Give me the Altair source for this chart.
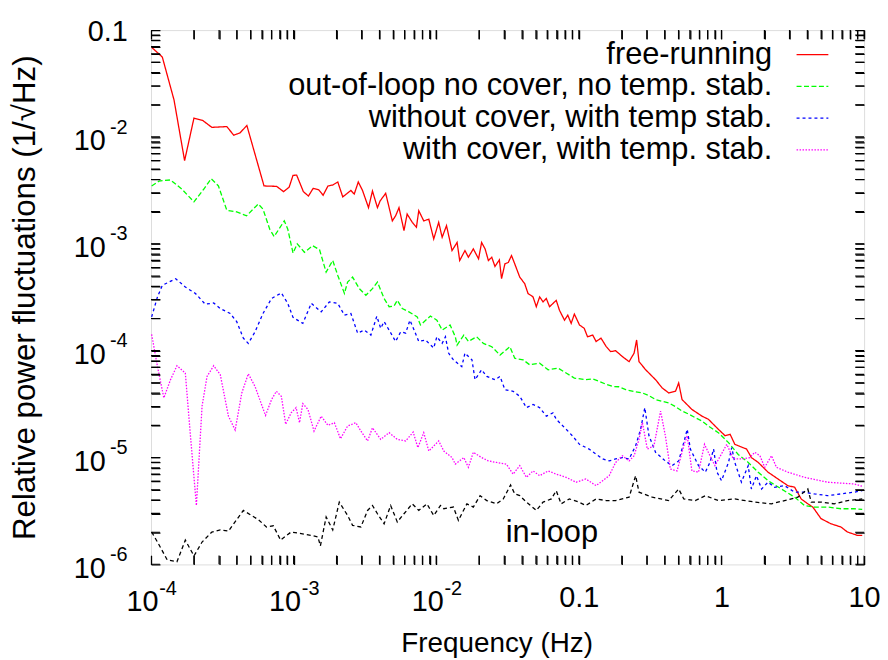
import math
import altair as alt
import pandas as pd

# ---------------- data ----------------
series_names = ["free-running",
                "out-of-loop no cover, no temp. stab.",
                "without cover, with temp stab.",
                "with cover, with temp. stab."]
series_colors = ["#ff0000", "#00ff00", "#0000ff", "#ff00ff"]
series_dashes = [[1, 0], [5, 2.5], [3, 3], [1.5, 1.5]]
inloop_label = "in-loop"
inloop_label_f = [0.0647]
inloop_label_v = [1.62e-6]

free_f = [1.01e-4, 1.2e-4, 1.45e-4, 1.72e-4, 2.0e-4, 2.3e-4, 2.67e-4, 3.4e-4, 3.8e-4, 4.2e-4, 4.7e-4,
          6.2e-4, 7.6e-4, 8.5e-4, 9.3e-4, 9.9e-4,
          1.05e-3, 1.17e-3, 1.27e-3, 1.37e-3, 1.5e-3, 1.61e-3, 1.74e-3, 1.88e-3, 2.04e-3, 2.21e-3,
          2.52e-3, 2.66e-3, 2.84e-3, 3.04e-3, 3.35e-3, 3.57e-3, 3.87e-3, 4.04e-3, 4.42e-3, 4.92e-3,
          5.19e-3, 5.48e-3, 5.94e-3, 6.25e-3, 6.79e-3, 7.26e-3, 7.54e-3, 8.17e-3, 8.87e-3, 9.6e-3,
          1.04e-2, 1.1e-2, 1.18e-2, 1.29e-2, 1.4e-2, 1.46e-2, 1.59e-2, 1.68e-2, 1.82e-2, 1.98e-2,
          2.08e-2, 2.2e-2, 2.32e-2, 2.45e-2, 2.58e-2, 2.77e-2, 2.87e-2, 3.03e-2, 3.2e-2, 3.37e-2,
          3.55e-2, 3.85e-2, 4.17e-2, 4.4e-2, 4.77e-2, 5.03e-2, 5.31e-2, 5.61e-2, 5.91e-2, 6.23e-2,
          6.94e-2, 7.31e-2, 7.93e-2, 8.36e-2, 8.83e-2, 9.3e-2, 0.101, 0.109, 0.115, 0.125,
          0.132, 0.143, 0.155, 0.167, 0.181, 0.202, 0.225, 0.244, 0.254, 0.264,
          0.294, 0.345, 0.384, 0.427, 0.476, 0.501, 0.529, 0.62, 0.73, 0.81,
          0.95, 1.06, 1.15, 1.24, 1.5, 1.62, 1.81, 2.12, 2.49, 2.92,
          3.26, 3.62, 4.03, 4.37, 4.99, 5.86, 6.88, 7.64, 8.98, 9.7]
free_v = [6.9e-2, 5.6e-2, 2.22e-2, 6.0e-3, 1.5e-2, 1.43e-2, 1.23e-2, 1.25e-2, 1.04e-2, 1.09e-2, 1.28e-2,
          3.48e-3, 3.45e-3, 3.08e-3, 3.39e-3, 4.37e-3,
          4.4e-3, 3.08e-3, 2.8e-3, 3.3e-3, 3.2e-3, 2.85e-3, 3.48e-3, 3.55e-3, 3.79e-3, 2.75e-3,
          3.16e-3, 2.92e-3, 3.79e-3, 3.16e-3, 2.18e-3, 3.12e-3, 2.18e-3, 2.52e-3, 2.97e-3, 1.64e-3,
          1.83e-3, 2.18e-3, 1.33e-3, 1.9e-3, 1.59e-3, 1.43e-3, 2.04e-3, 1.64e-3, 1.7e-3, 1.11e-3,
          1.59e-3, 1.15e-3, 1.48e-3, 8.65e-4, 1.03e-3, 6.98e-4, 8.65e-4, 7.49e-4, 8.97e-4, 7.24e-4,
          1.03e-3, 8.97e-4, 6.98e-4, 7.49e-4, 6.14e-4, 7.08e-4, 4.72e-4, 6.5e-4, 6.7e-4, 7.77e-4,
          6.5e-4, 4.88e-4, 4.24e-4, 3.43e-4, 3.19e-4, 2.58e-4, 3.19e-4, 2.86e-4, 3.08e-4, 2.58e-4,
          2.96e-4, 2.39e-4, 1.93e-4, 2.15e-4, 1.8e-4, 2.2e-4, 1.74e-4, 1.62e-4, 1.35e-4, 1.4e-4,
          1.22e-4, 1.31e-4, 1.1e-4, 9.8e-5, 1.0e-4, 8.8e-5, 7.9e-5, 9.5e-5, 1.26e-4, 7.9e-5,
          6.63e-5, 5.35e-5, 4.48e-5, 4.02e-5, 4.17e-5, 4.99e-5, 3.49e-5, 2.82e-5, 2.44e-5, 2.28e-5,
          1.84e-5, 1.6e-5, 1.65e-5, 1.33e-5, 1.2e-5, 1.0e-5, 9.0e-6, 7.3e-6, 6.3e-6, 5.46e-6,
          5.27e-6, 4.1e-6, 3.69e-6, 3.44e-6, 2.68e-6, 2.4e-6, 2.24e-6, 2.01e-6, 1.87e-6, 1.87e-6]

ool_f = [1.01e-4, 1.14e-4, 1.37e-4, 1.65e-4, 2.0e-4, 2.34e-4, 2.64e-4, 2.97e-4, 3.4e-4, 3.99e-4,
         4.68e-4, 5.65e-4, 6.1e-4, 6.8e-4, 7.3e-4, 8.6e-4, 9.1e-4, 9.9e-4, 1.06e-3, 1.19e-3,
         1.36e-3, 1.52e-3, 1.69e-3, 1.88e-3, 2.04e-3, 2.27e-3, 2.39e-3, 2.59e-3, 2.89e-3, 3.21e-3,
         3.57e-3, 3.87e-3, 4.31e-3, 4.67e-3, 5.06e-3, 5.33e-3, 5.78e-3, 6.43e-3, 7.36e-3, 7.75e-3,
         9.1e-3, 1.01e-2, 1.1e-2, 1.25e-2, 1.36e-2, 1.4e-2, 1.56e-2, 1.68e-2, 1.92e-2, 2.14e-2,
         2.45e-2, 2.8e-2, 3.28e-2, 3.55e-2, 4.07e-2, 4.52e-2, 5.31e-2, 6.09e-2, 7.13e-2, 8.14e-2,
         9.3e-2, 0.112, 0.125, 0.139, 0.155, 0.172, 0.19, 0.213, 0.245, 0.279,
         0.31, 0.345, 0.385, 0.427, 0.475, 0.529, 0.59, 0.655, 0.73, 0.81,
         0.95, 1.12, 1.31, 1.54, 1.81, 2.12, 2.63, 3.26, 3.82, 4.48,
         5.54, 6.88, 8.5, 9.7]
ool_v = [3.48e-3, 3.87e-3, 3.96e-3, 3.24e-3, 2.47e-3, 3.24e-3, 4.07e-3, 3.48e-3, 2.06e-3, 1.99e-3,
         1.83e-3, 2.36e-3, 2.11e-3, 1.37e-3, 1.17e-3, 1.64e-3, 1.37e-3, 8.2e-4, 1.0e-3, 8.34e-4,
         9.6e-4, 8.8e-4, 5.43e-4, 6.98e-4, 5.06e-4, 3.43e-4, 4.39e-4, 4.88e-4, 3.81e-4, 3.3e-4,
         3.81e-4, 4.39e-4, 3.08e-4, 2.58e-4, 2.62e-4, 2.96e-4, 2.48e-4, 2.31e-4, 2.07e-4, 1.74e-4,
         2.11e-4, 1.93e-4, 1.56e-4, 1.74e-4, 1.35e-4, 1.13e-4, 1.4e-4, 1.22e-4, 1.35e-4, 1.17e-4,
         1.09e-4, 9.1e-5, 1.09e-4, 8.5e-5, 8.2e-5, 7.38e-5, 7.65e-5, 6.63e-5, 6.88e-5, 6.18e-5,
         5.55e-5, 5.35e-5, 5.45e-5, 5.16e-5, 4.85e-5, 4.63e-5, 4.6e-5, 4.32e-5, 4.15e-5, 4.02e-5,
         3.8e-5, 3.49e-5, 3.35e-5, 3.25e-5, 3.0e-5, 2.72e-5, 2.55e-5, 2.36e-5, 2.2e-5, 1.97e-5,
         1.71e-5, 1.38e-5, 1.07e-5, 9.0e-6, 7.3e-6, 6.08e-6, 5.08e-6, 4.26e-6, 3.56e-6, 3.44e-6,
         3.44e-6, 3.32e-6, 3.32e-6, 3.27e-6]

nocov_f = [1.01e-4, 1.11e-4, 1.2e-4, 1.49e-4, 1.74e-4, 2.05e-4, 2.4e-4, 2.75e-4, 3.06e-4, 3.59e-4,
           3.99e-4, 4.44e-4, 4.81e-4, 5.36e-4, 6.1e-4, 7.0e-4, 8.2e-4, 9.1e-4, 9.9e-4, 1.16e-3,
           1.33e-3, 1.56e-3, 1.78e-3, 2.04e-3, 2.27e-3, 2.52e-3, 2.81e-3, 3.13e-3, 3.48e-3, 3.83e-3,
           4.08e-3, 4.31e-3, 4.67e-3, 5.19e-3, 5.63e-3, 6.1e-3, 6.54e-3, 7.0e-3, 7.54e-3, 8.4e-3,
           9.6e-3, 1.01e-2, 1.1e-2, 1.16e-2, 1.22e-2, 1.32e-2, 1.51e-2, 1.59e-2, 1.78e-2, 1.87e-2,
           2.08e-2, 2.26e-2, 2.58e-2, 2.8e-2, 3.03e-2, 3.46e-2, 3.85e-2, 4.29e-2, 4.77e-2, 5.31e-2,
           5.91e-2, 6.58e-2, 6.94e-2, 8.14e-2, 9.0e-2, 0.101, 0.118, 0.147, 0.163, 0.181,
           0.202, 0.225, 0.25, 0.271, 0.29, 0.31, 0.345, 0.404, 0.45, 0.501,
           0.544, 0.575, 0.605, 0.69, 0.77, 0.83, 0.88, 0.93, 1.0, 1.12,
           1.18, 1.24, 1.38, 1.54, 1.62, 1.76, 1.91, 2.12, 2.36, 2.77,
           3.26, 3.82, 4.48, 5.54, 6.88, 8.5, 9.7]
nocov_v = [2.07e-4, 3.19e-4, 4.09e-4, 4.72e-4, 3.94e-4, 3.43e-4, 2.72e-4, 2.8e-4, 2.48e-4, 2.23e-4,
           1.87e-4, 1.31e-4, 1.17e-4, 1.5e-4, 2.23e-4, 3.08e-4, 3.47e-4, 2.77e-4, 2.05e-4, 1.8e-4,
           2.77e-4, 2.31e-4, 2.86e-4, 2.77e-4, 2.15e-4, 2.23e-4, 1.46e-4, 1.56e-4, 1.4e-4, 2.1e-4,
           1.62e-4, 1.87e-4, 1.56e-4, 1.22e-4, 1.5e-4, 1.46e-4, 1.93e-4, 1.56e-4, 1.22e-4, 1.26e-4,
           1.06e-4, 1.35e-4, 1.17e-4, 1.35e-4, 9.5e-5, 8.2e-5, 7.1e-5, 9.5e-5, 8.2e-5, 5.35e-5,
           6.63e-5, 5.74e-5, 5.35e-5, 5.74e-5, 4.32e-5, 4.17e-5, 3.74e-5, 2.93e-5, 3.14e-5, 2.93e-5,
           2.44e-5, 2.62e-5, 2.28e-5, 1.84e-5, 1.6e-5, 1.33e-5, 1.2e-5, 9.7e-6, 9.3e-6, 9.7e-6,
           1.0e-5, 9.7e-6, 1.29e-5, 1.84e-5, 2.93e-5, 1.6e-5, 1.12e-5, 9.3e-6, 8.4e-6, 9.3e-6,
           1.38e-5, 1.84e-5, 1.2e-5, 8.4e-6, 7.3e-6, 9.0e-6, 1.2e-5, 7.3e-6, 6.08e-6, 9.0e-6,
           1.24e-5, 9.0e-6, 5.88e-6, 8.4e-6, 5.08e-6, 6.76e-6, 5.08e-6, 5.88e-6, 5.27e-6, 5.46e-6,
           4.74e-6, 4.74e-6, 4.57e-6, 4.4e-6, 4.57e-6, 4.74e-6, 4.91e-6]

cov_f = [1.01e-4, 1.11e-4, 1.23e-4, 1.37e-4, 1.52e-4, 1.74e-4, 1.89e-4, 2.08e-4, 2.28e-4, 2.47e-4,
         2.75e-4, 3.06e-4, 3.49e-4, 3.89e-4, 4.33e-4, 4.81e-4, 5.36e-4, 6.35e-4, 7.0e-4, 7.57e-4,
         8.2e-4, 8.8e-4, 9.6e-4, 1.04e-3, 1.1e-3, 1.16e-3, 1.26e-3, 1.39e-3, 1.56e-3, 1.74e-3,
         1.93e-3, 2.13e-3, 2.39e-3, 2.73e-3, 2.96e-3, 3.3e-3, 3.57e-3, 4.08e-3, 4.67e-3, 5.33e-3,
         6.1e-3, 6.89e-3, 7.43e-3, 8.17e-3, 8.87e-3, 1.04e-2, 1.13e-2, 1.29e-2, 1.36e-2, 1.56e-2,
         1.68e-2, 1.82e-2, 2.08e-2, 2.32e-2, 2.65e-2, 3.1e-2, 3.46e-2, 3.85e-2, 4.29e-2, 4.77e-2,
         5.31e-2, 6.09e-2, 6.94e-2, 8.14e-2, 9.56e-2, 0.112, 0.132, 0.147, 0.163, 0.181,
         0.202, 0.225, 0.244, 0.264, 0.279, 0.302, 0.336, 0.374, 0.404, 0.438,
         0.488, 0.544, 0.575, 0.62, 0.69, 0.76, 0.83, 0.9, 1.09, 1.21,
         1.38, 1.58, 1.71, 1.86, 2.01, 2.24, 2.43, 2.92, 3.82, 5.54,
         8.5, 9.7]
cov_v = [1.42e-4, 7.1e-5, 3.62e-5, 5.35e-5, 7.23e-5, 6.18e-5, 1.6e-5, 3.56e-6, 3.03e-5, 5.74e-5,
         7.23e-5, 5.96e-5, 2.44e-5, 1.81e-5, 4.02e-5, 6.08e-5, 4.63e-5, 2.48e-5, 3.49e-5, 4.17e-5,
         3.74e-5, 2.05e-5, 2.62e-5, 2.93e-5, 2.12e-5, 3.2e-5, 2.82e-5, 1.77e-5, 2.44e-5, 2.0e-5,
         2.12e-5, 1.5e-5, 1.97e-5, 2.12e-5, 1.77e-5, 1.43e-5, 1.9e-5, 1.48e-5, 1.71e-5, 1.48e-5,
         1.43e-5, 1.73e-5, 1.24e-5, 1.71e-5, 1.15e-5, 1.43e-5, 1.15e-5, 1.0e-5, 8.68e-6, 1.0e-5,
         8.1e-6, 1.12e-5, 1.0e-5, 9.3e-6, 9.0e-6, 8.68e-6, 7.0e-6, 8.4e-6, 6.53e-6, 7.5e-6,
         6.76e-6, 7.5e-6, 7.0e-6, 6.53e-6, 5.88e-6, 6.3e-6, 5.46e-6, 6.08e-6, 6.76e-6, 9.0e-6,
         1.04e-5, 9.3e-6, 1.04e-5, 1.48e-5, 2.12e-5, 1.2e-5, 1.29e-5, 2.72e-5, 1.6e-5, 7.8e-6,
         7.5e-6, 1.29e-5, 1.6e-5, 7.5e-6, 7.3e-6, 1.33e-5, 1.04e-5, 8.4e-6, 1.33e-5, 9.7e-6,
         9.7e-6, 1.0e-5, 1.12e-5, 1.04e-5, 8.1e-6, 1.04e-5, 8.1e-6, 7.3e-6, 6.53e-6, 5.88e-6,
         5.66e-6, 5.39e-6]

inloop_f = [1.01e-4, 1.11e-4, 1.3e-4, 1.52e-4, 1.74e-4, 2.0e-4, 2.28e-4, 2.67e-4, 3.06e-4, 3.49e-4,
            4.44e-4, 5.07e-4, 5.65e-4, 6.45e-4, 7.2e-4, 8.1e-4, 9.6e-4, 1.13e-3, 1.33e-3, 1.48e-3,
            1.54e-3, 1.69e-3, 1.88e-3, 2.09e-3, 2.39e-3, 2.59e-3, 2.96e-3, 3.3e-3, 3.57e-3, 3.87e-3,
            4.31e-3, 4.79e-3, 5.33e-3, 5.94e-3, 6.79e-3, 7.54e-3, 8.6e-3, 9.6e-3, 1.07e-2, 1.13e-2,
            1.32e-2, 1.43e-2, 1.64e-2, 1.82e-2, 2.03e-2, 2.26e-2, 2.65e-2, 2.95e-2, 3.32e-2, 3.55e-2,
            3.85e-2, 4.29e-2, 5.03e-2, 5.61e-2, 6.41e-2, 6.94e-2, 7.51e-2, 8.58e-2, 0.1, 0.112,
            0.132, 0.155, 0.181, 0.225, 0.25, 0.264, 0.327, 0.427, 0.501, 0.544,
            0.655, 0.77, 0.95, 1.24, 1.71, 2.24, 2.77, 3.43, 4.03, 4.26,
            4.99, 6.18, 7.64, 9.7]
inloop_v = [2.01e-6, 1.62e-6, 1.1e-6, 1.06e-6, 1.69e-6, 1.2e-6, 1.62e-6, 2.01e-6, 2.1e-6, 2.05e-6,
            3.2e-6, 2.87e-6, 2.63e-6, 2.24e-6, 2.3e-6, 1.69e-6, 2.01e-6, 1.94e-6, 1.87e-6, 1.81e-6,
            1.49e-6, 2.78e-6, 2.1e-6, 3.83e-6, 2.87e-6, 2.32e-6, 2.24e-6, 3.2e-6, 3.56e-6, 2.98e-6,
            2.4e-6, 3.56e-6, 2.5e-6, 2.98e-6, 3.69e-6, 3.2e-6, 3.69e-6, 2.87e-6, 3.56e-6, 3.32e-6,
            3.44e-6, 2.58e-6, 3.69e-6, 3.44e-6, 4.4e-6, 3.96e-6, 3.69e-6, 4.1e-6, 5.54e-6, 4.57e-6,
            4.4e-6, 3.83e-6, 3.2e-6, 3.83e-6, 4.1e-6, 4.9e-6, 3.69e-6, 4.1e-6, 3.83e-6, 3.56e-6,
            4.1e-6, 3.96e-6, 3.96e-6, 4.26e-6, 6.76e-6, 4.74e-6, 4.26e-6, 3.96e-6, 5.08e-6, 4.1e-6,
            3.96e-6, 4.4e-6, 3.96e-6, 4.1e-6, 3.83e-6, 3.69e-6, 3.96e-6, 4.26e-6, 5.08e-6, 3.83e-6,
            3.83e-6, 3.69e-6, 3.96e-6, 4.1e-6]

# axis ticks and labels
x_domain = [1e-4, 10.0]
y_domain = [1e-6, 0.1]
x_major = [1e-4, 1e-3, 1e-2, 0.1, 1, 10]
x_mantissa_labels = ["10", "10", "10", "0.1", "1", "10"]
x_exponent_labels = ["-4", "-3", "-2", "", "", ""]
y_major = [1e-6, 1e-5, 1e-4, 1e-3, 1e-2, 0.1]
y_mantissa_labels = ["10", "10", "10", "10", "10", "0.1"]
y_exponent_labels = ["-6", "-5", "-4", "-3", "-2", ""]
x_all_ticks = [m * 10.0 ** k for k in range(-4, 1) for m in range(1, 10)] + [10.0]
y_all_ticks = [m * 10.0 ** k for k in range(-6, -1) for m in range(1, 10)] + [0.1]

# ---------------- tables ----------------
rows = []
for name, fs, vs in zip(series_names, [free_f, ool_f, nocov_f, cov_f],
                        [free_v, ool_v, nocov_v, cov_v]):
    assert len(fs) == len(vs), name
    for i, (f, v) in enumerate(zip(fs, vs)):
        rows.append({"series": name, "f": f, "v": v, "idx": i})
df = pd.DataFrame(rows)
assert len(inloop_f) == len(inloop_v)
df_in = pd.DataFrame({"f": inloop_f, "v": inloop_v, "idx": range(len(inloop_f))})
df_txt = pd.DataFrame({"f": inloop_label_f, "v": inloop_label_v, "label": [inloop_label]})
df_xt = pd.DataFrame({"f": x_all_ticks})
df_yt = pd.DataFrame({"v": y_all_ticks})

FONT = "Liberation Sans"
xs = alt.Scale(type="log", domain=x_domain, nice=False)
ys = alt.Scale(type="log", domain=y_domain, nice=False)
W, H = 718, 538
TICK = 9  # inward tick length in pixels


def label_expr(vals, labels):
    expr = "''"
    for v, lab in zip(vals, labels):
        expr = f"abs(log(datum.value)/LN10 - ({math.log10(v):.3f})) < 0.01 ? '{lab}' : " + expr
    return expr


def pick(vals, labels):
    keep = [(v, l) for v, l in zip(vals, labels) if l]
    return [v for v, _ in keep], [l for _, l in keep]


def label_axis(orient, vals, labels, size, **kw):
    v, l = pick(vals, labels)
    return alt.Axis(orient=orient, values=v, labelExpr=label_expr(v, l), labelFontSize=size,
                    labelFont=FONT, labelColor="black", ticks=False, domain=False, grid=False,
                    labelFlush=False, labelOverlap=False, labelBound=False, **kw)


def grid_tick_axis(orient, vals, span):
    # gnuplot-like inward ticks: each grid line is dashed so only its two ends show
    return alt.Axis(orient=orient, values=vals, labels=False, ticks=False, domain=False,
                    grid=True, gridColor="#000000", gridWidth=1.3, gridOpacity=1,
                    gridDash=[TICK, span - 2 * TICK, TICK, 0], title=None, zindex=2)


x_ten = [v for v, l in zip(x_major, x_mantissa_labels) if l == "10" and v < 1]
x_dec = [v for v in x_major if v not in x_ten]
y_ten = [v for v, l in zip(y_major, y_mantissa_labels) if l == "10"]
y_dec = [v for v in y_major if v not in y_ten]

ax_x_main = label_axis("bottom", x_ten, ["10"] * len(x_ten), 29, labelAlign="right",
                       labelOffset=7, labelPadding=23, title="Frequency (Hz)",
                       titleFontSize=28, titleFont=FONT, titleFontWeight="normal",
                       titleColor="black", titleX=W / 2 - 11, titleY=88, titleAlign="center",
                       titleBaseline="alphabetic")
ax_y_main = label_axis("left", y_ten, ["10"] * len(y_ten), 29, labelAlign="right",
                       labelBaseline="alphabetic", labelOffset=12.7, labelPadding=46,
                       title="Relative power fluctuations (1/\u221aHz)", titleFontSize=31.5,
                       titleFont=FONT, titleFontWeight="normal", titleColor="black",
                       titleAngle=270, titleX=-117, titleY=H / 2, titleAlign="center",
                       titleBaseline="alphabetic")
ax_x_dec = label_axis("bottom", x_dec, [x_mantissa_labels[x_major.index(v)] for v in x_dec], 29,
                      labelAlign="center", labelPadding=19, title=None)
ax_y_dec = label_axis("left", y_dec, [y_mantissa_labels[y_major.index(v)] for v in y_dec], 29,
                      labelAlign="right", labelBaseline="alphabetic", labelOffset=10.4,
                      labelPadding=24, title=None)
ax_x_exp = label_axis("bottom", x_major, x_exponent_labels, 20, labelAlign="left",
                      labelOffset=7.7, labelPadding=14, title=None)
ax_y_exp = label_axis("left", y_major, y_exponent_labels, 20, labelAlign="right",
                      labelBaseline="alphabetic", labelOffset=-3.9, labelPadding=24, title=None)

leg = alt.Legend(title=None, orient="none", legendX=649, legendY=7.7, symbolType="stroke",
                 symbolSize=1024, symbolStrokeWidth=1.3, labelFontSize=31, labelFont=FONT,
                 labelColor="black", labelAlign="right", labelOffset=alt.ExprRef(expr="-57.5"),
                 labelLimit=800, rowPadding=0, padding=0)

lines = alt.Chart(df).mark_line(strokeWidth=1.3, clip=True).encode(
    x=alt.X("f:Q", scale=xs, axis=ax_x_main),
    y=alt.Y("v:Q", scale=ys, axis=ax_y_main),
    color=alt.Color("series:N", scale=alt.Scale(domain=series_names, range=series_colors),
                    legend=leg),
    strokeDash=alt.StrokeDash("series:N",
                              scale=alt.Scale(domain=series_names, range=series_dashes),
                              legend=leg),
    order=alt.Order("idx:Q"),
)

inloop = alt.Chart(df_in).mark_line(color="black", strokeDash=[4, 3], strokeWidth=1.3,
                                    clip=True).encode(
    x=alt.X("f:Q", scale=xs, axis=None),
    y=alt.Y("v:Q", scale=ys, axis=None),
    order=alt.Order("idx:Q"),
)

note = alt.Chart(df_txt).mark_text(font=FONT, fontSize=31, color="black", align="center",
                                   baseline="alphabetic").encode(
    x=alt.X("f:Q", scale=xs, axis=None),
    y=alt.Y("v:Q", scale=ys, axis=None),
    text="label:N",
)

# inward tick marks drawn as short rules, placed by the shared scales
rule = dict(color="black", strokeWidth=1.2, clip=True)
t_bottom = alt.Chart(df_xt).mark_rule(**rule).encode(
    x=alt.X("f:Q", scale=xs, axis=None), y=alt.value(H), y2=alt.value(H - TICK))
t_top = alt.Chart(df_xt).mark_rule(**rule).encode(
    x=alt.X("f:Q", scale=xs, axis=None), y=alt.value(0), y2=alt.value(TICK))
t_left = alt.Chart(df_yt).mark_rule(**rule).encode(
    y=alt.Y("v:Q", scale=ys, axis=None), x=alt.value(0), x2=alt.value(TICK))
t_right = alt.Chart(df_yt).mark_rule(**rule).encode(
    y=alt.Y("v:Q", scale=ys, axis=None), x=alt.value(W), x2=alt.value(W - TICK))


def guide(xaxis, yaxis):
    return alt.Chart(df_in).mark_line(strokeOpacity=0).encode(
        x=alt.X("f:Q", scale=xs, axis=xaxis),
        y=alt.Y("v:Q", scale=ys, axis=yaxis),
    )


g_dec = guide(ax_x_dec, ax_y_dec)
g_exp = guide(ax_x_exp, ax_y_exp)
g_ticks = guide(grid_tick_axis("bottom", x_all_ticks, H), grid_tick_axis("left", y_all_ticks, W))

chart = alt.layer(lines, inloop, note, t_bottom, t_top, t_left, t_right, g_dec, g_exp, g_ticks
                  ).resolve_axis(x="independent", y="independent").properties(
    width=W, height=H,
    autosize=alt.AutoSizeParams(type="none"),
    padding={"left": 144, "top": 20, "right": 16, "bottom": 96},
).configure_view(stroke="black", strokeWidth=1.6).configure(background="white")

chart.save("out.html", embed_options={"renderer": "svg", "actions": False})
